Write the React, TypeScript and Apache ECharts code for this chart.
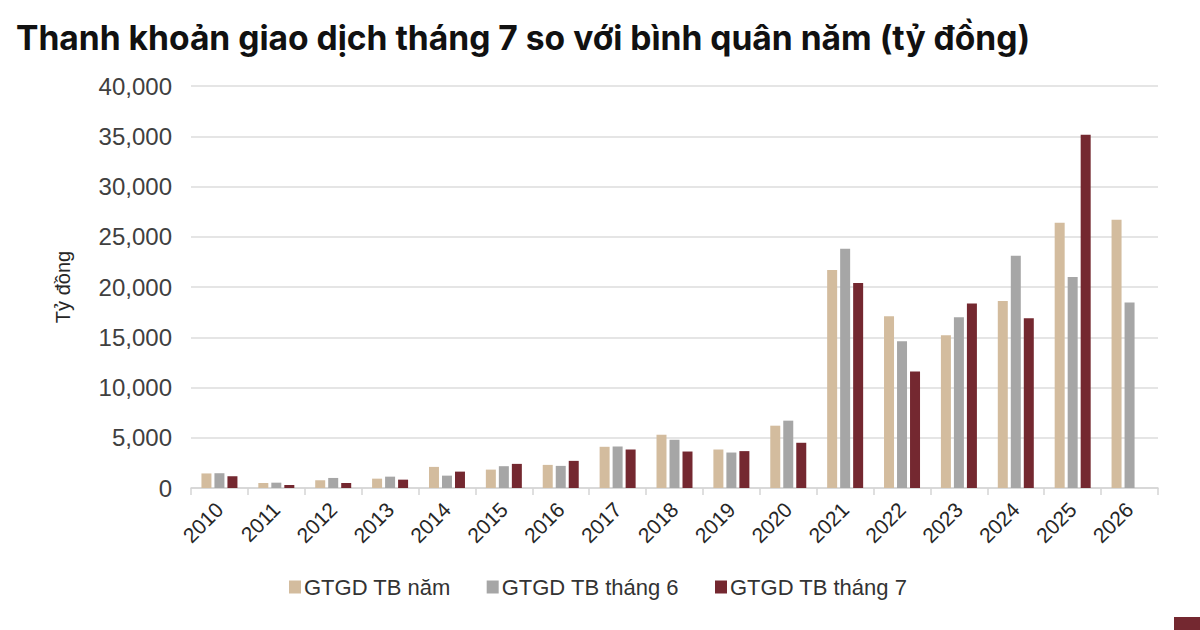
import React, { useEffect, useRef } from 'react';
import * as echarts from 'echarts';

const years = ['2010', '2011', '2012', '2013', '2014', '2015', '2016', '2017', '2018', '2019', '2020', '2021', '2022', '2023', '2024', '2025', '2026'];
const avgYear = [1450, 500, 770, 930, 2100, 1830, 2300, 4100, 5300, 3830, 6200, 21700, 17100, 15200, 18600, 26400, 26700];
const avgJune = [1470, 530, 1000, 1130, 1230, 2170, 2200, 4130, 4800, 3530, 6700, 23800, 14600, 17000, 23100, 21000, 18450];
const avgJuly = [1170, 300, 500, 830, 1630, 2400, 2700, 3830, 3630, 3670, 4500, 20400, 11600, 18350, 16900, 35150, null];
const seriesNames = ['GTGD TB năm', 'GTGD TB tháng 6', 'GTGD TB tháng 7'];
const colors = ['#d3bc9e', '#a6a6a6', '#742830'];

const App: React.FC = () => {
  const chartRef = useRef<HTMLDivElement>(null);

  useEffect(() => {
    if (!chartRef.current) return;
    const chart = echarts.init(chartRef.current, null, { renderer: 'svg' });

    const makeBar = (name: string, data: (number | null)[], color: string) => ({
      name,
      type: 'bar' as const,
      data,
      barWidth: 10,
      barGap: '30%',
      itemStyle: { color },
    });

    chart.setOption({
      animation: false,
      textStyle: { fontFamily: '"Liberation Sans", Arial, sans-serif' },
      title: {
        text: 'Thanh khoản giao dịch tháng 7 so với bình quân năm (tỷ đồng)',
        left: 11,
        top: 15,
        textStyle: { fontFamily: 'Inter, sans-serif', fontWeight: 700, fontSize: 33.6, color: '#111111' },
      },
      legend: {
        left: 284,
        top: 571,
        itemWidth: 12,
        itemHeight: 13,
        itemGap: 36,
        icon: 'rect',
        textStyle: { fontSize: 22, color: '#333333', padding: [0, 0, 0, -2] },
      },
      grid: { left: 191, right: 42, top: 86, bottom: 142 },
      xAxis: {
        type: 'category',
        data: years,
        axisLine: { lineStyle: { color: '#d4d4d4', width: 1.5 } },
        axisTick: { show: true, length: 7, lineStyle: { color: '#d4d4d4', width: 1.5 } },
        axisLabel: { rotate: 45, interval: 0, margin: 18, fontSize: 21, color: '#262626' },
      },
      yAxis: {
        type: 'value',
        min: 0,
        max: 40000,
        interval: 5000,
        name: 'Tỷ đồng',
        nameLocation: 'middle',
        nameGap: 118,
        nameTextStyle: { fontSize: 20, color: '#262626' },
        axisLine: { show: false },
        axisTick: { show: false },
        splitLine: { lineStyle: { color: '#dcdcdc', width: 1.5 } },
        axisLabel: {
          margin: 19,
          fontSize: 24,
          color: '#404040',
          formatter: (v: number) => v.toLocaleString('en-US'),
        },
      },
      series: [
        makeBar(seriesNames[0], avgYear, colors[0]),
        makeBar(seriesNames[1], avgJune, colors[1]),
        makeBar(seriesNames[2], avgJuly, colors[2]),
      ],
      graphic: [
        { type: 'rect', left: 1174, top: 617, shape: { width: 26, height: 13 }, style: { fill: '#742830' } },
      ],
    });

    return () => {
      chart.dispose();
    };
  }, []);

  return <div ref={chartRef} style={{ position: 'fixed', left: 0, top: 0, width: 1200, height: 630, background: '#ffffff' }} />;
};

export default App;
